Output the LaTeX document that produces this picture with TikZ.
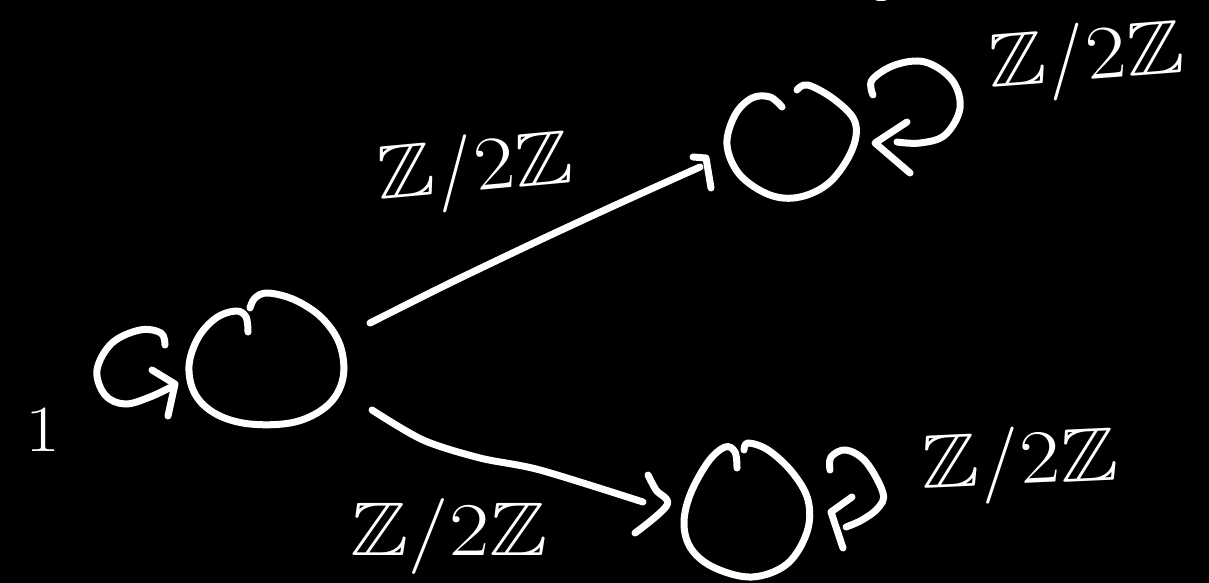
\documentclass[tikz,border=0pt]{standalone}
\usepackage{amssymb}
\newcommand{\zz}{$\mathbb{Z}$/2$\mathbb{Z}$}
\begin{document}
\begin{tikzpicture}[x=1pt,y=-1pt,
  ink/.style={draw=white,line width=7pt,line cap=round,line join=round},
  lbl/.style={text=white,inner sep=0pt,xscale=1.15,font=\fontsize{76}{86}\selectfont}]
\fill[black] (0,0) rectangle (1209,583);
\useasboundingbox (0,0) rectangle (1209,583);
% left node G
\draw[ink] plot[smooth,tension=0.6] coordinates {(248,332) (246,317) (236,311) (216,318) (198,338) (189,366) (195,394) (216,414) (250,424) (295,422) (328,405) (343,378) (340,345) (322,318) (295,300) (268,293) (255,298) (250,308)};
% left loop (G)
\draw[ink] plot[smooth,tension=0.6] coordinates {(165,345) (161,333) (140,330) (112,343) (97,370) (105,395) (125,404) (150,397) (173,386)};
\draw[ink] (152,370) -- (175,384) -- (168,416);
% top right node
\draw[ink] plot[smooth,tension=0.6] coordinates {(782,107) (770,97) (752,98) (735,115) (727,145) (740,175) (770,195) (800,197) (830,182) (852,150) (855,122) (835,100) (808,85) (797,90)};
% top right loop
\draw[ink] plot[smooth,tension=0.6] coordinates {(873,95) (872,80) (895,65) (925,62) (952,80) (960,108) (945,135) (920,143) (897,142)};
\draw[ink] (907,122) -- (875,143) -- (910,173);
% bottom right node
\draw[ink] plot[smooth,tension=0.6] coordinates {(737,468) (735,452) (725,447) (708,462) (690,495) (684,525) (692,550) (715,568) (752,577) (787,564) (807,532) (808,500) (792,472) (768,450) (748,443) (744,450)};
% bottom right loop
\draw[ink] plot[smooth,tension=0.6] coordinates {(830,470) (831,457) (846,450) (866,462) (883,493) (878,508) (862,520) (846,527)};
\draw[ink] (852,497) -- (831,512) -- (843,548);
% arrows
\coordinate (a1s) at (370,323);
\coordinate (a1e) at (700,167);
\draw[ink] plot[smooth,tension=0.5] coordinates {(a1s) (450,283) (540,240) (620,203) (a1e)};
\draw[ink] (693,157) -- (706,158) -- (711,188);
\coordinate (a2s) at (372,410);
\coordinate (a2e) at (643,502);
\draw[ink] plot[smooth,tension=0.5] coordinates {(a2s) (423,440) (480,458) (540,470) (a2e)};
\draw[ink] plot[smooth,tension=0.6] coordinates {(648,475) (656,490) (667,505) (635,533)};
% fragment at top
\draw[ink] (878,-2) -- (884,-2);
% labels
\node[lbl,rotate=6] (l1) at (475,172) {\zz};
\node[lbl] (l2) at (449,536) {\zz};
\node[lbl,rotate=5] (l3) at (1087,61) {\zz};
\node[lbl,rotate=3] (l4) at (1020,465) {\zz};
\node[lbl,xscale=1,font=\fontsize{66}{70}\selectfont] (one) at (43,430) {1};
\end{tikzpicture}
\end{document}
